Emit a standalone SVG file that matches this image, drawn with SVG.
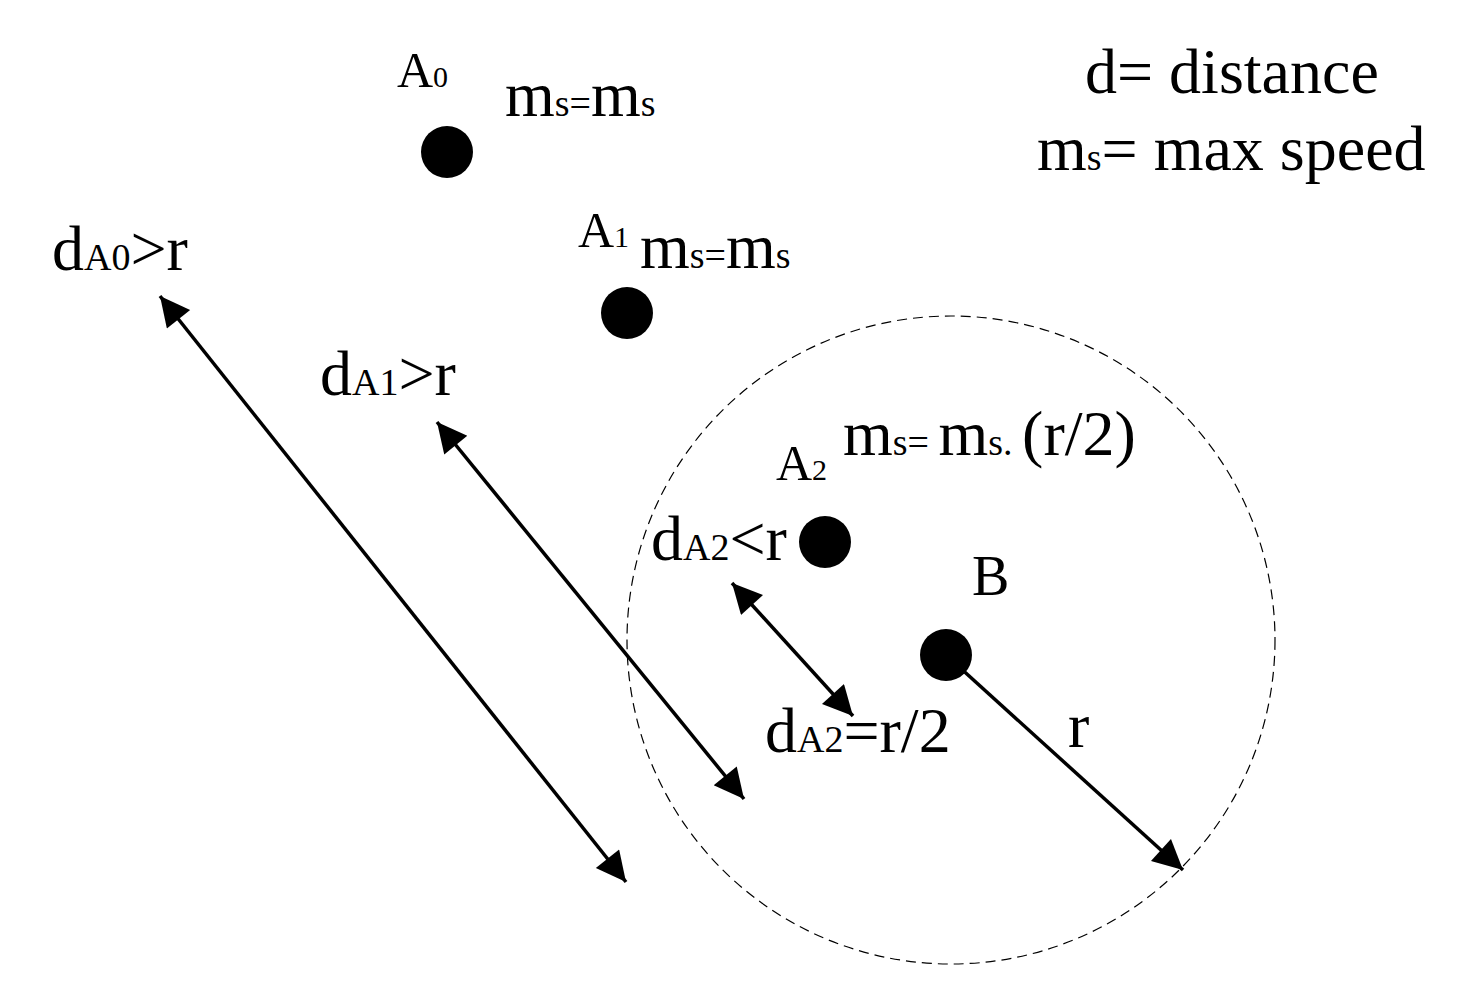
<svg xmlns="http://www.w3.org/2000/svg" width="1479" height="986" viewBox="0 0 1479 986">
<style>
text{font-family:"Liberation Serif","Times New Roman",serif;fill:#000}
.big{font-size:64px}
.sub{font-size:38px}
.lab{font-size:50px}
.labsub{font-size:30px}
.dot{fill:#000}
.conn{stroke:#000;stroke-width:3.5;fill:none}
</style>
<defs>
<marker id="ah" viewBox="0 0 10 10" refX="10" refY="5" markerWidth="10" markerHeight="8.5" orient="auto-start-reverse" markerUnits="strokeWidth">
<path d="M0,0 L10,5 L0,10 z" fill="#000"/>
</marker>
</defs>
<rect width="1479" height="986" fill="#fff"/>
<circle cx="951" cy="640" r="324" fill="none" stroke="#000" stroke-width="1.2" stroke-dasharray="10 6"/>
<g id="connectors">
<line class="conn" x1="160" y1="296" x2="626" y2="882" marker-start="url(#ah)" marker-end="url(#ah)"/>
<line class="conn" x1="437" y1="422" x2="744" y2="799" marker-start="url(#ah)" marker-end="url(#ah)"/>
<line class="conn" x1="732" y1="583" x2="853" y2="716" marker-start="url(#ah)" marker-end="url(#ah)"/>
<line class="conn" x1="946" y1="655" x2="1183" y2="870" marker-end="url(#ah)"/>
</g>
<g id="A0">
<circle class="dot" cx="447" cy="152" r="26"/>
<text x="397" y="87"><tspan class="lab">A</tspan><tspan class="labsub">0</tspan></text>
<text x="505" y="116"><tspan class="big">m</tspan><tspan class="sub">s=</tspan><tspan class="big">m</tspan><tspan class="sub">s</tspan></text>
</g>
<g id="A1">
<circle class="dot" cx="627" cy="313" r="26"/>
<text x="578" y="247"><tspan class="lab">A</tspan><tspan class="labsub">1</tspan></text>
<text x="640" y="268"><tspan class="big">m</tspan><tspan class="sub">s=</tspan><tspan class="big">m</tspan><tspan class="sub">s</tspan></text>
</g>
<g id="A2">
<circle class="dot" cx="825" cy="542" r="26"/>
<text x="776" y="480"><tspan class="lab">A</tspan><tspan class="labsub">2</tspan></text>
<text x="843" y="455"><tspan class="big">m</tspan><tspan class="sub">s= </tspan><tspan class="big">m</tspan><tspan class="sub">s. </tspan><tspan class="big">(r/2)</tspan></text>
</g>
<g id="B">
<circle class="dot" cx="946" cy="655" r="26"/>
<text x="972" y="595" style="font-size:56px">B</text>
</g>
<g id="labels">
<text x="52" y="270"><tspan class="big">d</tspan><tspan class="sub">A0</tspan><tspan class="big">&gt;r</tspan></text>
<text x="320" y="395"><tspan class="big">d</tspan><tspan class="sub">A1</tspan><tspan class="big">&gt;r</tspan></text>
<text x="651" y="560"><tspan class="big">d</tspan><tspan class="sub">A2</tspan><tspan class="big">&lt;r</tspan></text>
<text x="765" y="752"><tspan class="big">d</tspan><tspan class="sub">A2</tspan><tspan class="big">=r/2</tspan></text>
<text x="1068" y="747" class="big">r</text>
</g>
<g id="legend">
<text x="1085" y="93" class="big">d= distance</text>
<text x="1037" y="170"><tspan class="big">m</tspan><tspan class="sub">s</tspan><tspan class="big">= max speed</tspan></text>
</g>
</svg>
